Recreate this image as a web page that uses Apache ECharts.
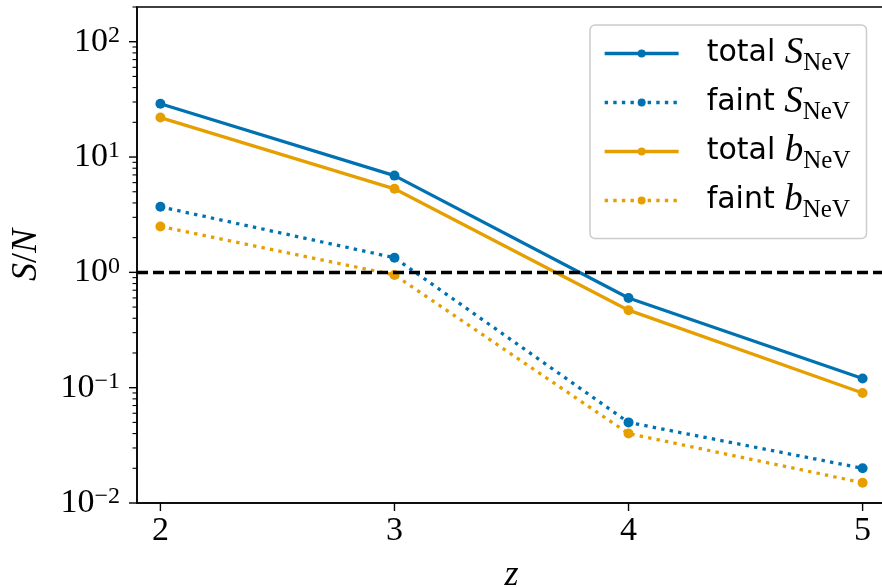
<!DOCTYPE html>
<html>
<head>
<meta charset="utf-8">
<script src="https://cdn.jsdelivr.net/npm/echarts@6/dist/echarts.min.js"></script>
<style>
html,body{margin:0;padding:0;background:#fff;}
#chart{width:882px;height:587px;}
</style>
</head>
<body>
<div id="chart"></div>
<script>
// ---- data ----
const zValues = [2, 3, 4, 5];
const totalS = [29, 6.9, 0.60, 0.12];
const faintS = [3.7, 1.34, 0.05, 0.02];
const totalB = [22, 5.3, 0.47, 0.09];
const faintB = [2.5, 0.95, 0.04, 0.015];
const xTickValues = [2, 3, 4, 5];
const yTickExponents = [-2, -1, 0, 1, 2];
const seriesNames = ['total S', 'faint S', 'total b', 'faint b'];
const refLevel = 1;

const BLUE = '#0072B2';
const ORANGE = '#E69F00';
const SERIF = '"Liberation Serif", "Times New Roman", serif';
const SANS = '"DejaVu Sans", sans-serif';

function pairs(arr) { return zValues.map((x, i) => [x, arr[i]]); }

function mkSeries(name, arr, color, dotted) {
  return {
    name: name,
    type: 'line',
    data: pairs(arr),
    symbol: 'circle',
    symbolSize: 10,
    showSymbol: true,
    itemStyle: { color: color },
    lineStyle: { color: color, width: 3.3, type: dotted ? [3.4, 5.2] : 'solid', cap: 'butt' },
    emphasis: { disabled: true },
    animation: false,
    z: 3
  };
}

const chart = echarts.init(document.getElementById('chart'), null, { renderer: 'canvas' });

const series = [
  mkSeries(seriesNames[0], totalS, BLUE, false),
  mkSeries(seriesNames[1], faintS, BLUE, true),
  mkSeries(seriesNames[2], totalB, ORANGE, false),
  mkSeries(seriesNames[3], faintB, ORANGE, true)
];
series[0].markLine = {
  silent: true,
  symbol: ['none', 'none'],
  label: { show: false },
  lineStyle: { color: '#000', width: 3.3, type: [11, 5] },
  data: [{ yAxis: refLevel }],
  animation: false
};

const legendRich = {
  sf: { fontFamily: SANS, fontSize: 30, color: '#000', lineHeight: 44, padding: [0, 0, 0, 23] },
  it: { fontFamily: SERIF, fontStyle: 'italic', fontSize: 37, color: '#000', lineHeight: 44 },
  sub: { fontFamily: SERIF, fontSize: 25, color: '#000', lineHeight: 20, verticalAlign: 'bottom' }
};

const option = {
  backgroundColor: '#fff',
  animation: false,
  grid: { left: 137, right: -4, top: 7, bottom: 84, show: true, borderColor: '#000', borderWidth: 1.5, containLabel: false, outerBoundsMode: 'none' },
  legend: {
    show: true,
    orient: 'vertical',
    left: 590,
    top: 25,
    itemWidth: 74,
    itemHeight: 10,
    itemGap: 8.5,
    padding: [10, 16, 16, 13],
    backgroundColor: 'rgba(255,255,255,0.8)',
    borderColor: '#cccccc',
    borderWidth: 1.5,
    borderRadius: 5,
    selectedMode: false,
    lineStyle: { width: 3.3 },
    data: seriesNames,
    formatter: function (name) {
      const parts = name.split(' ');
      return '{sf|' + parts[0] + ' }{it|' + parts[1] + '}{sub|NeV}';
    },
    textStyle: { rich: legendRich }
  },
  xAxis: {
    type: 'value',
    min: 1.9,
    max: 5.1,
    splitNumber: 3,
    name: '{z|z}',
    nameLocation: 'middle',
    nameGap: 55,
    nameTextStyle: { rich: { z: { fontFamily: SERIF, fontStyle: 'italic', fontSize: 36, color: '#000' } } },
    axisLine: { show: true, lineStyle: { color: '#000', width: 1.5 } },
    axisTick: { show: false },
    splitLine: { show: false },
    axisLabel: {
      margin: 11,
      fontFamily: SERIF,
      fontSize: 34,
      color: '#000',
      showMinLabel: true,
      showMaxLabel: true,
      formatter: function (v) {
        return xTickValues.indexOf(Math.round(v * 1000) / 1000) >= 0 ? String(Math.round(v)) : '';
      }
    }
  },
  yAxis: {
    type: 'log',
    logBase: 10,
    min: 0.01,
    max: 200,
    name: '{i|S}{r|/}{i|N}',
    nameLocation: 'middle',
    nameRotate: 90,
    nameGap: 92,
    nameTextStyle: {
      rich: {
        i: { fontFamily: SERIF, fontStyle: 'italic', fontSize: 36, color: '#000' },
        r: { fontFamily: SERIF, fontSize: 36, color: '#000' }
      }
    },
    axisLine: { show: true, lineStyle: { color: '#000', width: 1.5 } },
    axisTick: { show: false },
    splitLine: { show: false },
    minorTick: { show: false },
    axisLabel: {
      margin: 17,
      fontFamily: SERIF,
      fontSize: 34,
      showMinLabel: true,
      showMaxLabel: true,
      formatter: function (v) {
        const e = Math.log10(v);
        const r = Math.round(e);
        if (Math.abs(e - r) > 1e-6 || yTickExponents.indexOf(r) < 0) return '';
        const es = r < 0 ? '\u2212' + (-r) : String(r);
        return '{b|10}{s|' + es + '}';
      },
      rich: {
        b: { fontFamily: SERIF, fontSize: 34, color: '#000', lineHeight: 36 },
        s: { fontFamily: SERIF, fontSize: 24, color: '#000', verticalAlign: 'top', lineHeight: 24 }
      }
    }
  },
  series: series
};

chart.setOption(option);

// tick marks drawn at library-computed pixel positions
function buildTicks() {
  const g = [];
  const tickStyle = { stroke: '#000', lineWidth: 1.4 };
  xTickValues.forEach(function (v) {
    const p = chart.convertToPixel({ xAxisIndex: 0, yAxisIndex: 0 }, [v, 0.01]);
    g.push({ type: 'line', silent: true, z: 10, shape: { x1: p[0], y1: p[1], x2: p[0], y2: p[1] + 8 }, style: tickStyle });
  });
  yTickExponents.forEach(function (e) {
    const val = Math.pow(10, e);
    const p = chart.convertToPixel({ xAxisIndex: 0, yAxisIndex: 0 }, [1.9, val]);
    g.push({ type: 'line', silent: true, z: 10, shape: { x1: p[0] - 8, y1: p[1], x2: p[0], y2: p[1] }, style: tickStyle });
    for (let k = 2; k <= 9; k++) {
      const mv = k * val;
      if (mv > 200) break;
      const q = chart.convertToPixel({ xAxisIndex: 0, yAxisIndex: 0 }, [1.9, mv]);
      g.push({ type: 'line', silent: true, z: 10, shape: { x1: q[0] - 4.5, y1: q[1], x2: q[0], y2: q[1] }, style: { stroke: '#000', lineWidth: 1.1 } });
    }
  });
  return g;
}
chart.setOption({ graphic: buildTicks() });
</script>
</body>
</html>
